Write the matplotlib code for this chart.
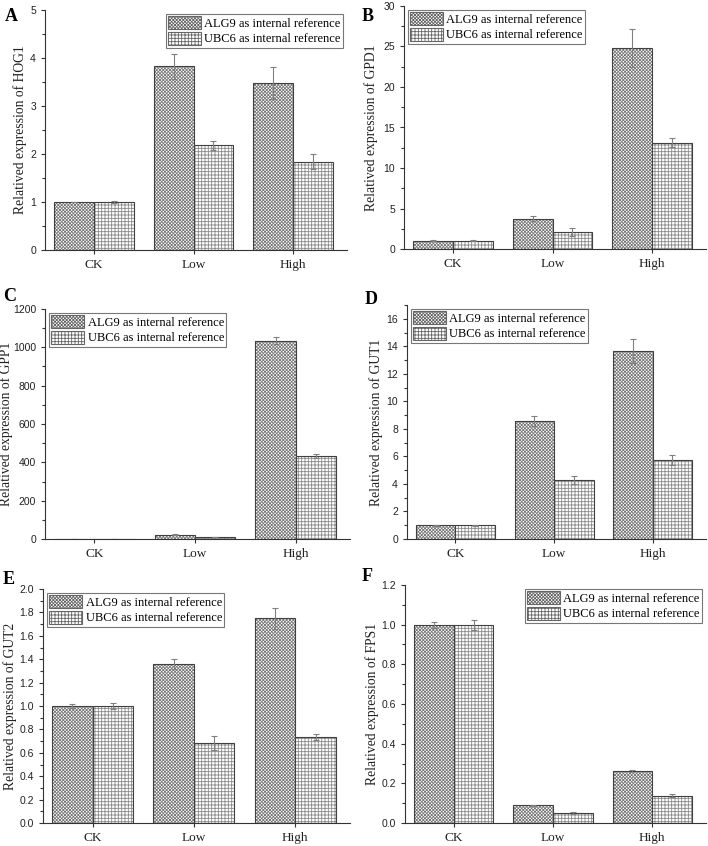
import matplotlib
matplotlib.use("Agg")
import matplotlib.pyplot as plt
from matplotlib.ticker import MultipleLocator, AutoMinorLocator
from matplotlib.patches import Patch
import numpy as np

groups = ["CK", "Low", "High"]
series_names = ["ALG9 as internal reference", "UBC6 as internal reference"]

hog1_alg9 = [1.0, 3.83, 3.48]
hog1_alg9_err = [0.01, 0.26, 0.33]
hog1_ubc6 = [1.0, 2.18, 1.84]
hog1_ubc6_err = [0.02, 0.09, 0.16]

gpd1_alg9 = [1.0, 3.75, 24.8]
gpd1_alg9_err = [0.05, 0.3, 2.3]
gpd1_ubc6 = [1.0, 2.1, 13.1]
gpd1_ubc6_err = [0.05, 0.45, 0.55]

gpp1_alg9 = [1.0, 22.0, 1035.0]
gpp1_alg9_err = [0.1, 3.0, 20.0]
gpp1_ubc6 = [1.0, 10.0, 435.0]
gpp1_ubc6_err = [0.1, 1.0, 10.0]

gut1_alg9 = [1.0, 8.57, 13.65]
gut1_alg9_err = [0.05, 0.35, 0.85]
gut1_ubc6 = [1.0, 4.3, 5.75]
gut1_ubc6_err = [0.02, 0.3, 0.35]

gut2_alg9 = [1.0, 1.36, 1.75]
gut2_alg9_err = [0.015, 0.045, 0.09]
gut2_ubc6 = [1.0, 0.68, 0.735]
gut2_ubc6_err = [0.025, 0.06, 0.025]

fps1_alg9 = [1.0, 0.09, 0.262]
fps1_alg9_err = [0.015, 0.002, 0.005]
fps1_ubc6 = [1.0, 0.05, 0.138]
fps1_ubc6_err = [0.025, 0.004, 0.007]

serif = "Liberation Serif"
sans = "Liberation Sans"
W, H = 708, 846

fig = plt.figure(figsize=(W / 100, H / 100), dpi=100)
plt.rcParams["hatch.linewidth"] = 0.6

hatches = ["x" * 10, "+++++"]
hatch_cols = ["#7a7a7a", "#8a8a8a"]


def rect(l, r, t, b):
    return [l / W, (H - b) / H, (r - l) / W, (b - t) / H]


# letter, gene, axes box, letter pos, ymax, step, data..., legend loc, ylabel x
panels = [
    ("A", "HOG1", rect(45, 347, 10, 250), (5, 8), 5, 1, hog1_alg9, hog1_alg9_err, hog1_ubc6, hog1_ubc6_err, "upper right", -0.06),
    ("B", "GPD1", rect(404, 706, 6, 249), (362, 8), 30, 5, gpd1_alg9, gpd1_alg9_err, gpd1_ubc6, gpd1_ubc6_err, "upper left", -0.085),
    ("C", "GPP1", rect(45, 350, 309, 539), (3, 288), 1200, 200, gpp1_alg9, gpp1_alg9_err, gpp1_ubc6, gpp1_ubc6_err, "upper left", -0.105),
    ("D", "GUT1", rect(407, 706, 305, 539), (365, 291), 17, 2, gut1_alg9, gut1_alg9_err, gut1_ubc6, gut1_ubc6_err, "upper left", -0.08),
    ("E", "GUT2", rect(43, 350, 589, 823), (3, 571), 2.0, 0.2, gut2_alg9, gut2_alg9_err, gut2_ubc6, gut2_ubc6_err, "upper left", -0.085),
    ("F", "FPS1", rect(405, 706, 585, 823), (362, 568), 1.2, 0.2, fps1_alg9, fps1_alg9_err, fps1_ubc6, fps1_ubc6_err, "upper right", -0.085),
]

x = np.arange(len(groups))
w = 0.4
axis_col = "#333333"

for letter, gene, box, lpos, ymax, step, a, ae, u, ue, loc, labx in panels:
    ax = fig.add_axes(box)
    for i, (vals, errs) in enumerate([(a, ae), (u, ue)]):
        xs = x - w / 2 + i * w
        ax.bar(xs, vals, w, color="white", edgecolor=hatch_cols[i], hatch=hatches[i], linewidth=0)
        ax.bar(xs, vals, w, color="none", edgecolor="#404040", linewidth=0.8)
        ax.errorbar(xs, vals, yerr=errs, fmt="none", ecolor="#808080", elinewidth=0.8, capsize=2, capthick=0.8)
    ax.set_xlim(-0.49, 2.54)
    ax.set_ylim(0, ymax)
    ax.yaxis.set_major_locator(MultipleLocator(step))
    ax.yaxis.set_minor_locator(AutoMinorLocator(2))
    ax.set_xticks(x)
    ax.set_xticklabels(groups, fontfamily=serif, fontsize=9.5)
    for lab in ax.get_yticklabels():
        lab.set_fontfamily(sans)
        lab.set_fontsize(7.5)
    ax.tick_params(axis="both", direction="out", colors=axis_col, length=3, width=0.8, labelcolor="#222222")
    ax.tick_params(axis="y", which="minor", length=2, width=0.8, colors=axis_col)
    for s in ["top", "right"]:
        ax.spines[s].set_visible(False)
    for s in ["left", "bottom"]:
        ax.spines[s].set_color(axis_col)
        ax.spines[s].set_linewidth(0.8)
    ax.set_ylabel("Relatived expression of " + gene, fontfamily=serif, fontsize=9.8, color="#222222")
    ax.yaxis.set_label_coords(labx, 0.5)
    handles = [Patch(facecolor="white", edgecolor="#666666", hatch=hatches[i], linewidth=0.8) for i in range(2)]
    leg = ax.legend(handles, series_names, loc=loc, prop={"family": serif, "size": 9},
                    fancybox=False, edgecolor="#777777", framealpha=1, handlelength=2.6, handleheight=1.2,
                    borderpad=0.2, labelspacing=0.15, handletextpad=0.3, borderaxespad=0.3)
    leg.get_frame().set_linewidth(0.8)
    fig.text(lpos[0] / W, 1 - lpos[1] / H, letter, fontfamily=serif, fontweight="bold", fontsize=13,
             va="top", ha="left")

fig.savefig("out.png", dpi=100)
